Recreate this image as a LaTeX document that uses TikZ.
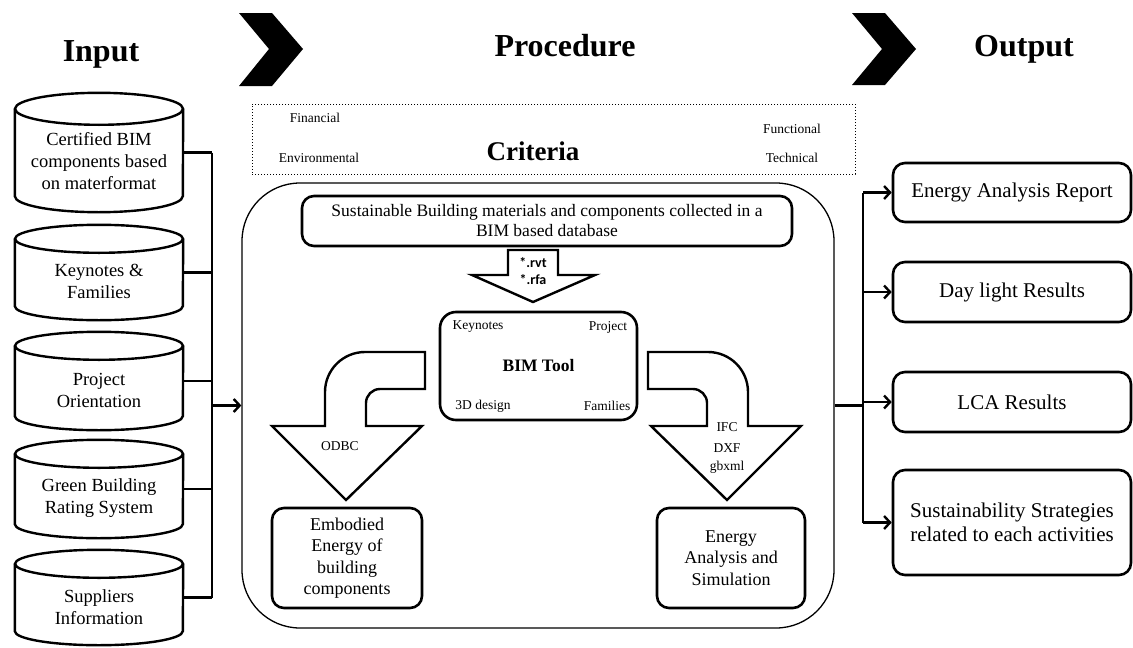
\documentclass[tikz,border=0pt]{standalone}
\usepackage{fontspec}
\setmainfont{Liberation Serif}
\newfontfamily\tnr{Liberation Serif}
\newfontfamily\calibrifont{Carlito}
\usetikzlibrary{arrows.meta,positioning}
\newcommand{\drum}[2]{%
  \draw[drumline] ([yshift=-#2pt]#1.north west) -- ([yshift=#2pt]#1.south west) arc (180:0:84 and #2) -- ([yshift=-#2pt]#1.north east);
  \draw[drumline] ([yshift=-#2pt]#1.north) ellipse (84 and #2);}

\begin{document}
\begin{tikzpicture}[x=1pt,y=-1pt,>={Straight Barb[length=6pt,width=13pt]}]
\tikzstyle{every node}+=[inner sep=0pt]
\tikzstyle{ttl}=[anchor=base, font=\tnr\fontsize{32}{36}\selectfont\bfseries]
\tikzstyle{lbl}=[font=\tnr\fontsize{13.5}{16}\selectfont]
\tikzstyle{drumline}=[line width=2.4pt]
\tikzstyle{cyl}=[minimum width=168pt]
\tikzstyle{cyltxt}=[align=center, font=\tnr\fontsize{18.5}{22}\selectfont]
\tikzstyle{rbox}=[draw, line width=2.6pt, rounded corners=12pt, align=center]
\tikzstyle{outbox}=[rbox, minimum width=238pt, font=\tnr\fontsize{21}{24}\selectfont]
\tikzstyle{link}=[line width=2.4pt]
\tikzstyle{hollow}=[draw, line width=2.4pt, line join=miter, fill=white]

\useasboundingbox (0,0) rectangle (1133,648);

\node[ttl] (input) at (101,61) {Input};
\node[ttl] (procedure) at (565,56) {Procedure};
\node[ttl] (output) at (1024,56) {Output};
\fill (239,13) -- (272,13) -- (303,49) -- (272,86) -- (239,86) -- (269,49) -- cycle;
\fill (852,13) -- (885,13) -- (916,49) -- (885,85) -- (852,85) -- (882,49) -- cycle;

\node[draw, dotted, line width=1pt, minimum width=603pt, minimum height=70pt] (critbox) at (553.5,139) {};
\node[font=\tnr\fontsize{27}{30}\selectfont\bfseries] (criteria) at (533,151) {Criteria};
\node[lbl] (fin) at (315,118) {Financial};
\node[lbl] (env) at (319,158) {Environmental};
\node[lbl] (fun) at (792,129) {Functional};
\node[lbl] (tec) at (792,158) {Technical};

\node[draw, line width=1.3pt, rounded corners=58pt, minimum width=592pt, minimum height=445pt] (proc) at (538,405.5) {};

\node[rbox, minimum width=490pt, minimum height=50pt, font=\tnr\fontsize{17.5}{20}\selectfont] (db) at (547,221) {Sustainable Building materials and components collected in a\\BIM based database};
\draw[hollow] (508,250) -- (558,250) -- (558,275) -- (595,275) -- (533,302) -- (472,275) -- (508,275) -- cycle;
\node[font=\calibrifont\bfseries\fontsize{14}{16}\selectfont] (rvt) at (533,263) {*.rvt};
\node[font=\calibrifont\bfseries\fontsize{14}{16}\selectfont] (rfa) at (533,280) {*.rfa};

\node[rbox, rounded corners=16pt, minimum width=197pt, minimum height=108pt, font=\tnr\fontsize{17.5}{20}\selectfont\bfseries] (bim) at (538.5,366) {BIM Tool};
\node[lbl] (keyn) at (478,327) {Keynotes};
\node[lbl] (proj) at (608,327) {Project};
\node[lbl] (design) at (483,406) {3D design};
\node[lbl] (fam) at (607,406) {Families};

\draw[hollow] (425,352) -- (365,352) arc (270:180:40) -- (325,426) -- (272,426) -- (346,500) -- (422,426) -- (366,426) -- (366,403) arc (180:270:14) -- (425,389) -- cycle;
\draw[hollow] (648,352) -- (708,352) arc (270:360:40) -- (748,426) -- (801,426) -- (727,500) -- (651,426) -- (707,426) -- (707,403) arc (0:-90:14) -- (648,389) -- cycle;
\node[lbl] (odbc) at (340,446) {ODBC};
\node[lbl] (ifc) at (727,427) {IFC};
\node[lbl] (dxf) at (727,448) {DXF};
\node[lbl] (gbxml) at (727,467) {gbxml};

\node[rbox, minimum width=150pt, minimum height=100pt, font=\tnr\fontsize{18}{21.5}\selectfont] (emb) at (347,558) {Embodied\\Energy of\\building\\components};
\node[rbox, minimum width=148pt, minimum height=100pt, font=\tnr\fontsize{18}{21.5}\selectfont] (ean) at (731,558) {Energy\\Analysis and\\Simulation};

\node[cyl, minimum height=119pt] (c1) at (99,152.5) {};
\node[cyl, minimum height=95pt] (c2) at (99,272.5) {};
\node[cyl, minimum height=98pt] (c3) at (99,381) {};
\node[cyl, minimum height=98pt] (c4) at (99,489) {};
\node[cyl, minimum height=95pt] (c5) at (99,597.5) {};
\drum{c1}{16}
\drum{c2}{14}
\drum{c3}{14}
\drum{c4}{14}
\drum{c5}{14}
\node[cyltxt] (t1) at (99,161) {Certified BIM\\components based\\on materformat};
\node[cyltxt] (t2) at (99,281) {Keynotes \&\\Families};
\node[cyltxt] (t3) at (99,390) {Project\\Orientation};
\node[cyltxt] (t4) at (99,498.5) {Green Building\\Rating System};
\node[cyltxt] (t5) at (99,607.5) {Suppliers\\Information};

\coordinate (inbus) at (212,150);
\draw[link] (c1.east) -- (c1.east -| inbus);
\draw[link] (c2.east) -- (c2.east -| inbus);
\draw[link] (c3.east) -- (c3.east -| inbus);
\draw[link] (c4.east) -- (c4.east -| inbus);
\draw[link] (c5.east) -- (c5.east -| inbus);
\draw[link] (c1.east -| inbus) -- (c5.east -| inbus);
\draw[link,->] (proc.west -| inbus) -- (proc.west);

\node[outbox, minimum height=59pt] (o1) at (1012,192.5) {Energy Analysis Report};
\node[outbox, minimum height=60pt] (o2) at (1012,292) {Day light Results};
\node[outbox, minimum height=60pt] (o3) at (1012,402) {LCA Results};
\node[outbox, minimum height=105pt] (o4) at (1012,522.5) {Sustainability Strategies\\related to each activities};

\coordinate (outbus) at (863,405.5);
\draw[link] (proc.east) -- (outbus);
\draw[link] (o1.west -| outbus) -- (o4.west -| outbus);
\draw[link,->] (o1.west -| outbus) -- (o1.west);
\draw[link,->] (o2.west -| outbus) -- (o2.west);
\draw[link,->] (o3.west -| outbus) -- (o3.west);
\draw[link,->] (o4.west -| outbus) -- (o4.west);
\end{tikzpicture}
\end{document}
